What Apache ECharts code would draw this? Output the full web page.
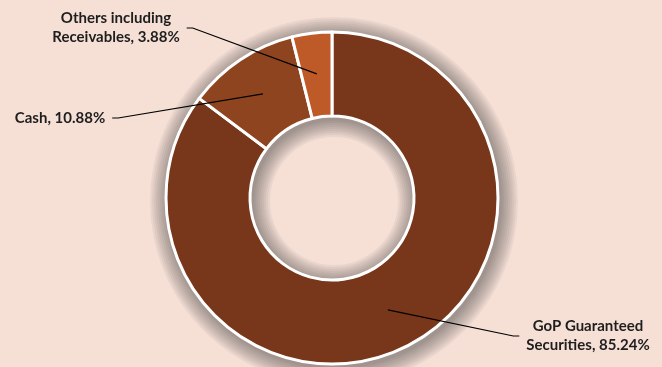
<!DOCTYPE html>
<html>
<head>
<meta charset="utf-8">
<script src="https://cdn.jsdelivr.net/npm/echarts@6/dist/echarts.min.js"></script>
<style>
  html, body { margin: 0; padding: 0; background: #f6e0d6; }
  #main { width: 662px; height: 367px; }
</style>
</head>
<body>
<div id="main"></div>
<script>
// asset allocation
var names = ['GoP Guaranteed\nSecurities', 'Cash', 'Others including\nReceivables'];
var shares = [85.24, 10.88, 3.88];
var colors = ['#78371a', '#8f4420', '#be5a28'];

// where each label sits, and which side the leader comes in from
var labelSpots = [[588, 336], [60, 118], [116, 28]];
var labelSide = [-1, 1, 1];

var center = [332, 198];
var inner = 82, outer = 166;

var pieData = names.map(function (n, i) {
    return { name: n, value: shares[i], itemStyle: { color: colors[i] } };
});

var chart = echarts.init(document.getElementById('main'));

// soft shadow around the ring, built from a stack of faint rings
var haloSteps = [2, 4, 6, 8, 10, 12, 14, 16, 18];
var haloSeries = haloSteps.map(function (k) {
    return {
        type: 'pie',
        z: 1,
        center: [center[0] + 2, center[1] + 3],
        radius: [inner - k, outer + k],
        silent: true,
        label: { show: false },
        labelLine: { show: false },
        itemStyle: { color: 'rgba(45,50,55,0.06)' },
        data: [{ value: 1, name: 'halo' }]
    };
});
var labelSeriesIdx = haloSeries.length + 1;

function anchorOf(idx) {
    var lay = chart.getModel().getSeriesByIndex(labelSeriesIdx).getData().getItemLayout(idx);
    var a = (lay.startAngle + lay.endAngle) / 2;
    return [lay.cx + lay.r * Math.cos(a), lay.cy + lay.r * Math.sin(a)];
}

chart.setOption({
    backgroundColor: '#f6e0d6',
    animation: false,
    series: haloSeries.concat([
        {
            type: 'pie',
            z: 2,
            center: center,
            radius: [inner, outer],
            startAngle: 90,
            clockwise: true,
            label: { show: false },
            labelLine: { show: false },
            itemStyle: { borderColor: '#ffffff', borderWidth: 3 },
            data: pieData
        },
        {
            // invisible copy, only there to carry labels + leader lines
            type: 'pie',
            z: 3,
            center: center,
            radius: [0, 125],
            startAngle: 90,
            clockwise: true,
            silent: true,
            itemStyle: { color: 'rgba(0,0,0,0)' },
            label: {
                show: true,
                position: 'outside',
                formatter: function (p) { return p.name + ', ' + p.value.toFixed(2) + '%'; },
                fontFamily: 'Lato',
                fontWeight: 'bold',
                fontSize: 15,
                lineHeight: 19,
                color: '#1e1e1e',
                align: 'center'
            },
            labelLine: {
                show: true,
                length: 10,
                length2: 10,
                lineStyle: { color: '#000', width: 1.2 }
            },
            labelLayout: function (p) {
                var i = p.dataIndex;
                var s = labelSpots[i];
                var side = labelSide[i];
                var w = p.labelRect.width;
                var end = [s[0] + side * (w / 2 + 7), s[1]];
                var elbow = [end[0] + side * 6, end[1]];
                return {
                    x: s[0], y: s[1], align: 'center', verticalAlign: 'middle',
                    labelLinePoints: [anchorOf(i), elbow, end]
                };
            },
            data: names.map(function (n, i) { return { name: n, value: shares[i] }; })
        }
    ])
});
</script>
</body>
</html>
